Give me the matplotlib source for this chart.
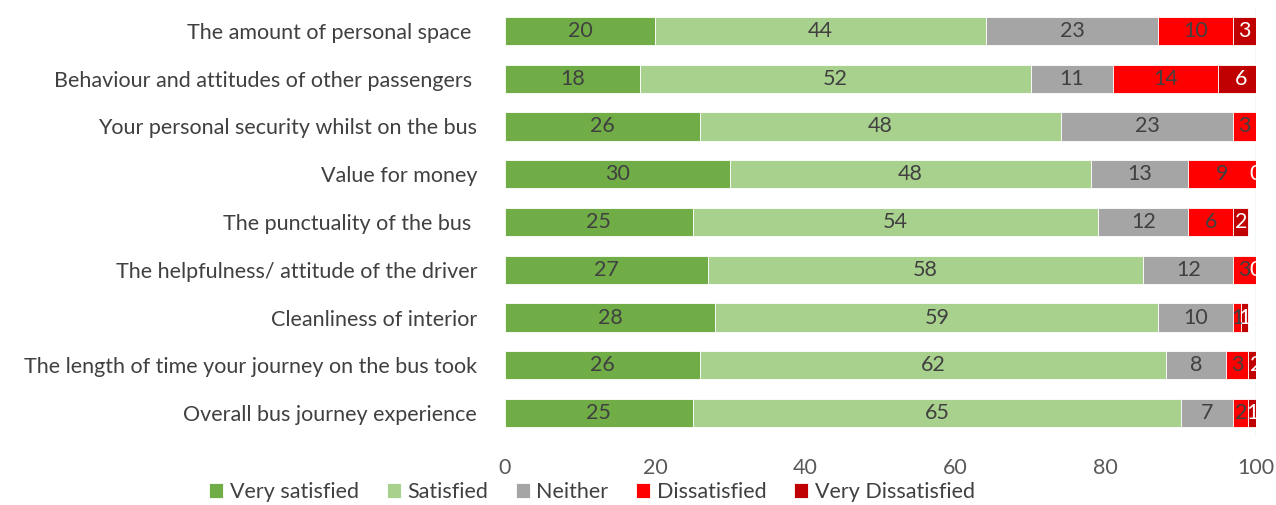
import numpy as np
import matplotlib.pyplot as plt

plt.rcParams['font.family'] = ['Lato', 'DejaVu Sans']

questions = [
    "The amount of personal space ",
    "Behaviour and attitudes of other passengers ",
    "Your personal security whilst on the bus",
    "Value for money",
    "The punctuality of the bus ",
    "The helpfulness/ attitude of the driver",
    "Cleanliness of interior",
    "The length of time your journey on the bus took",
    "Overall bus journey experience",
]
categories = ["Very satisfied", "Satisfied", "Neither", "Dissatisfied", "Very Dissatisfied"]
very_satisfied = [20, 18, 26, 30, 25, 27, 28, 26, 25]
satisfied = [44, 52, 48, 48, 54, 58, 59, 62, 65]
neither = [23, 11, 23, 13, 12, 12, 10, 8, 7]
dissatisfied = [10, 14, 3, 9, 6, 3, 1, 3, 2]
very_dissatisfied = [3, 6, 0.4, 0, 2, 0, 1, 2, 1]

series = [very_satisfied, satisfied, neither, dissatisfied, very_dissatisfied]
colors = ["#70AD47", "#A9D18E", "#A5A5A5", "#FF0000", "#C00000"]
label_colors = ["#404040", "#404040", "#404040", "#404040", "white"]

fig = plt.figure(figsize=(12.76, 5.05), dpi=100)
ax = fig.add_axes([505 / 1276, 1 - 437 / 505, 751 / 1276, 430 / 505])

y = np.arange(len(questions))
left = np.zeros(len(questions))
for vals, col, lc, name in zip(series, colors, label_colors, categories):
    vals = np.array(vals, dtype=float)
    bars = ax.barh(y, vals, left=left, height=0.59, color=col, edgecolor="white",
                   linewidth=0.6, label=name)
    for b, v, l in zip(bars, vals, left):
        if v < 0.5 and v != 0:
            continue
        ax.text(l + v / 2, b.get_y() + b.get_height() / 2, f"{v:.0f}",
                ha="center", va="center", color=lc, fontsize=15.5, clip_on=True)
    left += vals

ax.set_xlim(0, 100)
ax.set_ylim(len(questions) - 0.5, -0.5)
ax.set_yticks(y)
ax.set_yticklabels(questions, fontsize=15.5, color="#404040")
ax.set_xticks(np.arange(0, 101, 20))
ax.tick_params(axis="x", labelsize=15.5, labelcolor="#595959", length=0, pad=15)
ax.tick_params(axis="y", length=0, pad=20)
ax.axvline(100, color="#D9D9D9", lw=1, zorder=0)
for s in ax.spines.values():
    s.set_visible(False)

fig.legend(loc="center", bbox_to_anchor=(592 / 1276, 1 - 492 / 505), ncol=5,
           frameon=False, fontsize=15.5, handlelength=0.65, handleheight=0.65,
           handletextpad=0.3, columnspacing=1.3, labelcolor="#404040")

fig.savefig("out.png", dpi=100)
